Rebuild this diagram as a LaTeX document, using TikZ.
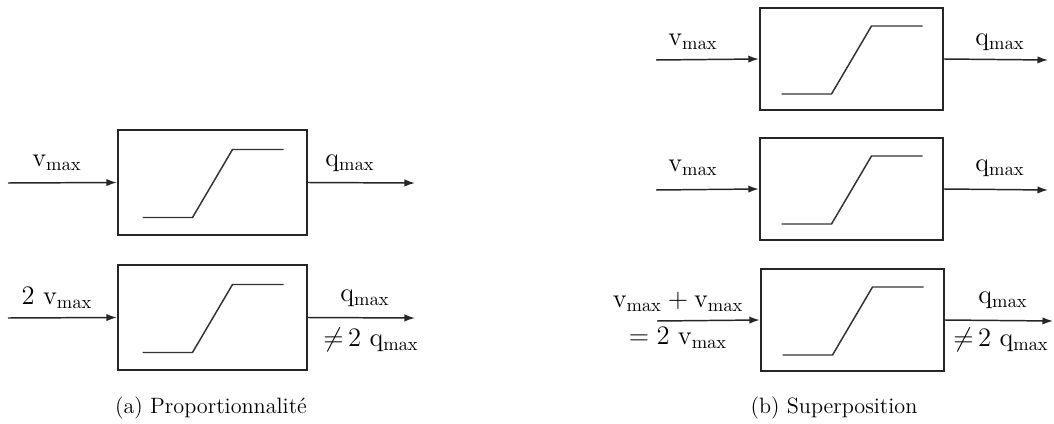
\documentclass[tikz,border=0pt]{standalone}
\usetikzlibrary{positioning,arrows.meta}
\newcommand{\vm}{\mathrm{v}_{\max}}
\newcommand{\qm}{\mathrm{q}_{\max}}
% ramp characteristic drawn inside a block
\newcommand{\ramp}[1]{\draw[rampline] ([shift={(-70,35)}]#1.center) -- ++(50,0) -- ++(40,-68) -- ++(51,0);}
\begin{document}
\begin{tikzpicture}[x=0.019cm,y=-0.019cm,
    blk/.style={draw=black!85,line width=1.2pt,inner sep=0pt,minimum width=3.59cm,minimum height=2cm},
    sig/.style={-{Latex[length=2mm,width=1.4mm]},black!85,thick},
    rampline/.style={black!80,thick},
    lbl/.style={font=\fontsize{14}{16}\selectfont,inner sep=1pt},
    captxt/.style={font=\fontsize{12}{14}\selectfont}]
    \useasboundingbox (0,0) rectangle (1054,424);
    % (a) proportionnalite
    \node[blk] (p1) at (212.5,182.5) {};
    \coordinate (p1in) at (8,183);
    \coordinate (p1out) at (415,183);
    \draw[sig] (p1in) -- (p1.west);
    \draw[sig] (p1.east) -- (p1out);
    \ramp{p1}
    \node[lbl] (p1v) at (57,163) {$\vm$};
    \node[lbl] (p1q) at (350,163) {$\qm$};
    \node[blk] (p2) at (212.5,317.5) {};
    \coordinate (p2in) at (8,318);
    \coordinate (p2out) at (415,318);
    \draw[sig] (p2in) -- (p2.west);
    \draw[sig] (p2.east) -- (p2out);
    \ramp{p2}
    \node[lbl] (p2v) at (57,298) {$2\ \vm$};
    \node[lbl] (p2q) at (365,298) {$\qm$};
    \node[lbl] (p2n) at (371,340) {${\neq}\,2\ \qm$};
    \node[captxt] (capa) at (211,408) {(a) Proportionnalité};
    % (b) superposition
    \node[blk,minimum width=3.48cm,minimum height=1.94cm] (s1) at (851.5,59) {};
    \coordinate (s1in) at (656,60);
    \coordinate (s1out) at (1048,60);
    \draw[sig] (s1in) -- (s1.west);
    \draw[sig] (s1.east) -- (s1out);
    \ramp{s1}
    \node[lbl] (s1v) at (693,42) {$\vm$};
    \node[lbl] (s1q) at (1000,42) {$\qm$};
    \node[blk,minimum width=3.48cm,minimum height=1.94cm] (s2) at (851.5,189) {};
    \coordinate (s2in) at (656,190);
    \coordinate (s2out) at (1048,190);
    \draw[sig] (s2in) -- (s2.west);
    \draw[sig] (s2.east) -- (s2out);
    \ramp{s2}
    \node[lbl] (s2v) at (693,168) {$\vm$};
    \node[lbl] (s2q) at (1000,168) {$\qm$};
    \node[blk,minimum width=3.48cm,minimum height=1.94cm] (s3) at (852.5,320) {};
    \coordinate (s3in) at (657,321);
    \coordinate (s3out) at (1053,321);
    \draw[sig] (s3in) -- (s3.west);
    \draw[sig] (s3.east) -- (s3out);
    \ramp{s3}
    \node[lbl] (s3v) at (678,302) {$\vm + \vm$};
    \node[lbl] (s3e) at (678,338) {$= 2\ \vm$};
    \node[lbl] (s3q) at (1003,300) {$\qm$};
    \node[lbl] (s3n) at (1001,340) {${\neq}\,2\ \qm$};
    \node[captxt] (capb) at (834,408) {(b) Superposition};
\end{tikzpicture}
\end{document}
